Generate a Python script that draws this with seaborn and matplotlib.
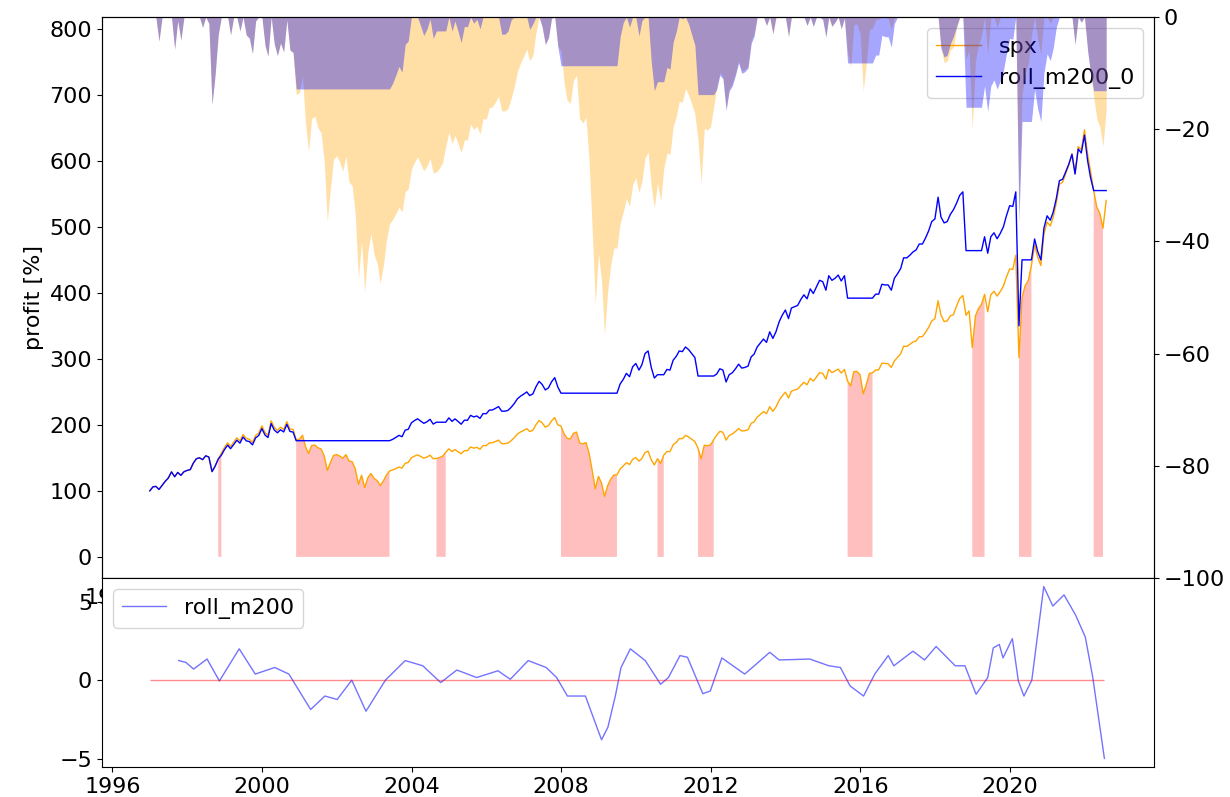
import numpy as np
import pandas as pd
import matplotlib
matplotlib.use("Agg")
import matplotlib.pyplot as plt
import matplotlib.dates as mdates
import seaborn as sns

plt.rcParams["font.size"] = 16

# monthly values (month ends, first point = Dec 1996 = 100)
spx = [
    100.0,
    106.1, 106.8, 102.2, 108.2, 114.5, 119.5, 128.8, 121.4, 127.9, 123.5, 129.0, 131.0,  # 1997
    132.3, 141.7, 148.7, 150.1, 147.3, 153.1, 151.3, 129.2, 137.3, 148.3, 157.1, 165.9,  # 1998
    172.8, 167.2, 173.7, 180.3, 175.8, 185.3, 179.4, 178.3, 173.2, 184.0, 187.5, 198.4,  # 1999
    188.3, 184.5, 206.0, 196.1, 191.8, 196.4, 193.2, 204.9, 193.9, 193.0, 177.5, 178.2,  # 2000
    184.4, 167.4, 156.6, 168.7, 169.5, 165.3, 163.5, 153.0, 131.0, 143.1, 153.8, 155.0,  # 2001
    152.6, 149.4, 154.9, 145.4, 144.1, 133.6, 110.0, 123.7, 105.0, 119.6, 126.4, 118.8,  # 2002
    115.5, 108.0, 114.5, 123.8, 130.1, 131.6, 133.7, 136.1, 134.5, 141.9, 142.9, 150.1,  # 2003
    152.7, 154.6, 152.0, 149.5, 151.3, 154.0, 148.7, 149.1, 150.5, 152.6, 158.5, 163.6,  # 2004
    159.5, 162.5, 159.4, 156.2, 160.9, 160.8, 166.6, 164.7, 165.9, 163.0, 168.7, 168.5,  # 2005
    172.8, 172.9, 174.8, 176.9, 171.5, 171.5, 172.4, 176.0, 180.4, 186.0, 189.1, 191.5,  # 2006
    194.2, 189.9, 191.8, 200.1, 206.6, 203.0, 196.5, 199.0, 206.1, 211.0, 200.0, 198.2,  # 2007
    186.1, 179.6, 178.6, 187.1, 189.1, 172.8, 171.1, 173.2, 157.5, 130.8, 103.0, 122.0,  # 2008
    111.5, 91.5, 107.7, 117.8, 124.1, 124.1, 133.3, 137.8, 142.7, 139.9, 147.9, 150.5,   # 2009
    145.0, 149.1, 157.9, 160.2, 147.1, 139.2, 148.7, 141.7, 154.1, 159.8, 159.4, 169.8,  # 2010
    173.6, 179.2, 179.0, 184.1, 181.6, 178.3, 174.5, 164.6, 148.5, 169.2, 168.4, 169.8,  # 2011
    177.2, 184.4, 190.2, 188.7, 176.9, 183.9, 186.2, 189.9, 194.5, 190.7, 191.2, 192.5,  # 2012
    202.3, 204.5, 211.8, 215.7, 220.2, 216.9, 227.6, 220.5, 227.0, 237.1, 243.8, 249.5,  # 2013
    240.7, 251.0, 252.8, 254.3, 259.7, 264.6, 260.7, 270.5, 266.3, 272.5, 279.1, 278.0,  # 2014
    269.3, 284.1, 279.2, 281.6, 284.5, 278.5, 284.0, 266.3, 259.2, 280.7, 280.9, 275.9,  # 2015
    247.0, 260.9, 278.1, 278.8, 283.1, 283.4, 293.4, 293.1, 292.7, 287.0, 296.9, 302.3,  # 2016
    307.7, 319.1, 319.0, 321.9, 325.6, 327.2, 333.5, 333.7, 340.1, 347.7, 357.4, 360.9,  # 2017
    388.0, 366.4, 356.5, 357.5, 365.2, 367.0, 380.2, 391.7, 396.0, 366.1, 372.6, 317.0,  # 2018
    365.1, 375.9, 382.7, 397.7, 371.5, 397.2, 402.4, 395.1, 401.9, 410.1, 424.1, 436.2,  # 2019
    435.5, 457.0, 302.0, 393.2, 411.0, 418.6, 441.6, 472.6, 454.0, 441.5, 488.9, 507.1,  # 2020
    501.4, 514.5, 536.4, 564.5, 567.6, 580.3, 593.4, 610.6, 581.6, 621.7, 616.6, 647.0,  # 2021
    610.0, 585.0, 555.0, 530.0, 520.0, 498.0, 540.0,                                     # 2022
]

roll_m200_0 = [
    100.0,
    106.1, 106.8, 102.2, 108.2, 114.5, 119.5, 128.8, 121.4, 127.9, 123.5, 129.0, 131.0,  # 1997
    132.3, 141.7, 148.7, 150.1, 147.3, 153.1, 151.3, 129.2, 137.3, 148.3, 154.0, 162.6,  # 1998
    169.3, 163.9, 170.2, 176.7, 172.3, 181.6, 175.8, 174.7, 169.7, 180.3, 183.8, 194.4,  # 1999
    184.5, 180.8, 201.9, 192.2, 188.0, 192.5, 189.3, 200.8, 190.0, 189.1, 176.0, 176.0,  # 2000
    176.0, 176.0, 176.0, 176.0, 176.0, 176.0, 176.0, 176.0, 176.0, 176.0, 176.0, 176.0,  # 2001
    176.0, 176.0, 176.0, 176.0, 176.0, 176.0, 176.0, 176.0, 176.0, 176.0, 176.0, 176.0,  # 2002
    176.0, 176.0, 176.0, 176.0, 176.0, 178.0, 180.9, 184.1, 182.0, 192.0, 193.3, 203.1,  # 2003
    206.6, 209.2, 205.7, 202.3, 204.7, 208.4, 201.2, 204.0, 204.0, 204.0, 204.0, 210.6,  # 2004
    205.3, 209.1, 205.1, 201.0, 207.1, 206.9, 214.4, 212.0, 213.5, 209.8, 217.1, 216.9,  # 2005
    222.4, 222.5, 225.0, 227.7, 220.7, 220.7, 221.9, 226.5, 232.2, 239.4, 243.4, 246.5,  # 2006
    249.9, 244.4, 246.8, 257.5, 265.9, 261.3, 252.9, 256.1, 265.3, 271.6, 257.4, 248.0,  # 2007
    248.0, 248.0, 248.0, 248.0, 248.0, 248.0, 248.0, 248.0, 248.0, 248.0, 248.0, 248.0,  # 2008
    248.0, 248.0, 248.0, 248.0, 248.0, 248.0, 262.0, 269.0, 278.0, 273.0, 288.0, 293.0,  # 2009
    283.0, 291.0, 308.0, 312.0, 287.0, 271.0, 276.0, 276.0, 276.0, 284.0, 283.0, 298.0,  # 2010
    304.0, 312.0, 311.0, 318.0, 314.0, 308.0, 302.0, 274.0, 274.0, 274.0, 274.0, 274.0,  # 2011
    274.0, 277.0, 285.0, 283.0, 265.0, 276.0, 279.0, 285.0, 292.0, 286.0, 287.0, 289.0,  # 2012
    303.0, 307.0, 318.0, 324.0, 330.0, 325.0, 341.0, 331.0, 341.0, 356.0, 366.0, 374.0,  # 2013
    361.0, 377.0, 379.0, 381.0, 390.0, 397.0, 391.0, 406.0, 399.0, 409.0, 419.0, 417.0,  # 2014
    404.0, 426.0, 419.0, 422.0, 427.0, 418.0, 426.0, 392.0, 392.0, 392.0, 392.0, 392.0,  # 2015
    392.0, 392.0, 392.0, 392.0, 398.0, 398.0, 413.0, 412.0, 412.0, 404.0, 422.0, 429.0,  # 2016
    437.0, 453.0, 453.0, 457.0, 462.0, 465.0, 474.0, 474.0, 483.0, 494.0, 508.0, 512.0,  # 2017
    545.0, 515.0, 506.0, 508.0, 519.0, 526.0, 536.0, 548.0, 553.0, 464.0, 464.0, 464.0,  # 2018
    464.0, 464.0, 464.0, 485.0, 460.0, 485.0, 491.0, 482.0, 490.0, 500.0, 517.0, 532.0,  # 2019
    531.0, 553.0, 350.0, 450.0, 450.0, 450.0, 450.0, 481.6, 462.6, 449.9, 498.0, 516.7,  # 2020
    510.0, 522.0, 543.0, 570.0, 572.0, 583.0, 595.0, 610.0, 580.0, 618.0, 612.0, 639.0,  # 2021
    600.0, 575.0, 555.0, 555.0, 555.0, 555.0, 555.0,                                     # 2022
]

# months the strategy is out of the market (first, last)
out_periods = [
    ("1998-10", "1998-11"), ("2000-11", "2003-05"), ("2004-08", "2004-11"),
    ("2007-12", "2009-06"), ("2010-07", "2010-09"), ("2011-08", "2012-01"),
    ("2015-08", "2016-04"), ("2018-12", "2019-04"), ("2020-03", "2020-07"),
    ("2022-03", "2022-06"),
]

# rolling 200 day momentum (decimal years)
roll_years = [
    1997.77, 1997.96, 1998.17, 1998.53, 1998.86, 1999.39, 1999.82, 2000.34, 2000.72,
    2001.30, 2001.68, 2002.01, 2002.40, 2002.78, 2003.30, 2003.83, 2004.30, 2004.78,
    2005.21, 2005.74, 2006.31, 2006.64, 2007.12, 2007.60, 2007.88, 2008.17, 2008.65,
    2009.08, 2009.25, 2009.45, 2009.60, 2009.85, 2010.25, 2010.66, 2010.87, 2011.18,
    2011.38, 2011.79, 2011.99, 2012.30, 2012.91, 2013.22, 2013.58, 2013.83, 2014.65,
    2015.16, 2015.47, 2015.73, 2016.09, 2016.39, 2016.75, 2016.90, 2017.41, 2017.72,
    2018.03, 2018.54, 2018.80, 2019.10, 2019.41, 2019.56, 2019.72, 2019.82, 2020.07,
    2020.23, 2020.38, 2020.59, 2020.91, 2021.15, 2021.45, 2021.76, 2022.02, 2022.22,
    2022.53,
]
roll_m200 = [
    1.25, 1.14, 0.71, 1.35, -0.05, 2.0, 0.39, 0.81, 0.39,
    -1.87, -1.01, -1.23, 0.0, -1.98, 0.0, 1.25, 0.92, -0.15,
    0.65, 0.17, 0.6, 0.06, 1.25, 0.81, 0.17, -1.01, -1.01,
    -3.8, -3.0, -1.0, 0.8, 2.0, 1.25, -0.26, 0.17, 1.57,
    1.46, -0.86, -0.69, 1.42, 0.39, 1.03, 1.78, 1.29, 1.35,
    0.92, 0.81, -0.37, -1.01, 0.39, 1.57, 0.92, 1.85, 1.29,
    2.15, 0.92, 0.92, -0.9, 0.17, 2.06, 2.28, 1.42, 2.65,
    -0.05, -1.01, 0.0, 5.97, 4.73, 5.44, 4.15, 2.75, 0.17,
    -4.99,
]

dates = pd.date_range("1996-12-31", periods=len(spx), freq="ME")
roll_dates = [pd.Timestamp(int(y), 1, 1) + pd.Timedelta(days=(y - int(y)) * 365.25)
              for y in roll_years]

months = dates.to_period("M")
out_mask = np.zeros(len(dates), dtype=bool)
for a, b in out_periods:
    out_mask |= (months >= pd.Period(a, "M")) & (months <= pd.Period(b, "M"))

spx_s = pd.Series(spx, index=dates)
strat_s = pd.Series(roll_m200_0, index=dates)
dd_spx = (spx_s / spx_s.cummax() - 1) * 100
dd_strat = (strat_s / strat_s.cummax() - 1) * 100

fig = plt.figure(figsize=(12.3, 7.97), dpi=100)
ax1 = fig.add_axes([0.0829, 0.2748, 0.8553, 0.7039])
ax2 = ax1.twinx()
ax3 = fig.add_axes([0.0829, 0.0376, 0.8553, 0.2372], sharex=ax1)

# top panel: equity curves + out-of-market shading
ax1.fill_between(dates, 0, spx, where=out_mask, color="red", alpha=0.25, lw=0)
sns.lineplot(x=dates, y=spx, ax=ax1, color="orange", lw=1, label="spx")
sns.lineplot(x=dates, y=roll_m200_0, ax=ax1, color="blue", lw=1, label="roll_m200_0")
ax1.set_ylim(-32, 818)
ax1.set_yticks(range(0, 801, 100))
ax1.set_ylabel("profit [%]")
ax1.legend(loc="upper right")

# drawdowns on the right axis
ax2.fill_between(dates, dd_spx, 0, color="orange", alpha=0.35, lw=0)
ax2.fill_between(dates, dd_strat, 0, color="blue", alpha=0.35, lw=0)
ax2.set_ylim(-100, 0)

# bottom panel: momentum
sns.lineplot(x=roll_dates, y=roll_m200, ax=ax3, color="blue", alpha=0.55, lw=1,
             label="roll_m200")
ax3.hlines(0, dates[0], roll_dates[-1], color="red", alpha=0.45, lw=1)
ax3.set_yticks([-5, 0, 5])
ax3.legend(loc="upper left")
ax3.xaxis.set_major_locator(mdates.YearLocator(4))
ax3.xaxis.set_major_formatter(mdates.DateFormatter("%Y"))

plt.savefig("out.png", dpi=100)
